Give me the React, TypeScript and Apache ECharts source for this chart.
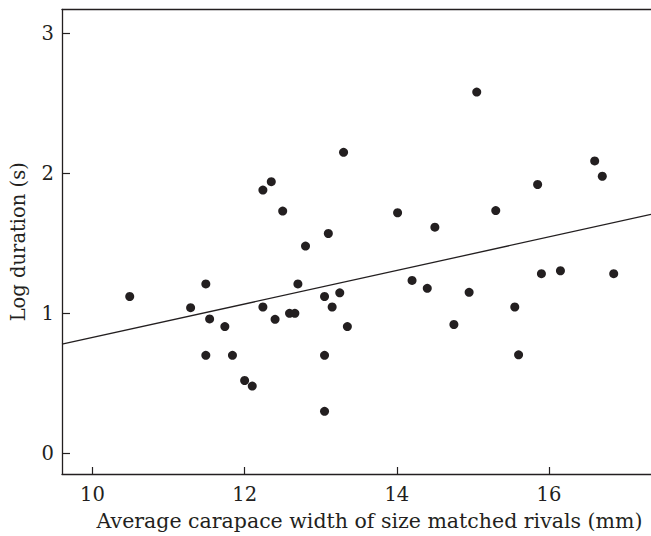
import React, { useEffect, useRef } from "react";
import * as echarts from "echarts";

const widthMm = [
  10.49, 11.29, 11.49, 11.54, 11.49, 11.74, 11.84, 12.0, 12.1, 12.24, 12.35, 12.24, 12.4, 12.5,
  12.59, 12.66, 12.7, 12.8, 13.05, 13.05, 13.05, 13.1, 13.15, 13.25, 13.3, 13.35, 14.01, 14.2,
  14.4, 14.5, 14.75, 14.95, 15.05, 15.3, 15.55, 15.6, 15.85, 15.9, 16.15, 16.6, 16.7, 16.85,
];
const logDuration = [
  1.12, 1.04, 1.21, 0.96, 0.7, 0.905, 0.7, 0.52, 0.48, 1.88, 1.94, 1.045, 0.957, 1.73,
  1.0, 1.0, 1.21, 1.48, 1.12, 0.7, 0.3, 1.57, 1.045, 1.146, 2.15, 0.905, 1.718, 1.235,
  1.178, 1.615, 0.92, 1.15, 2.58, 1.734, 1.045, 0.703, 1.92, 1.283, 1.304, 2.088, 1.979, 1.283,
];
const fitX = [9.6, 17.34];
const fitY = [0.779, 1.706];
const xTicks = [10, 12, 14, 16];
const yTicks = [0, 1, 2, 3];

export default function App() {
  const ref = useRef<HTMLDivElement>(null);
  useEffect(() => {
    if (!ref.current) return;
    const chart = echarts.init(ref.current, null, { renderer: "svg" });
    const font = "'DejaVu Serif', 'Liberation Serif', serif";
    const ink = "#231f20";
    chart.setOption({
      animation: false,
      backgroundColor: "#ffffff",
      grid: { left: 62, right: 0, top: 9.5, bottom: 61, containLabel: false },
      xAxis: [
        {
          type: "value",
          min: 9.6,
          max: 17.34,
          name: "Average carapace width of size matched rivals (mm)",
          nameLocation: "middle",
          nameGap: 36,
          nameTextStyle: { fontFamily: font, fontSize: 20.5, color: ink, padding: [0, 0, 0, 26] },
          axisLine: { show: true, onZero: false, lineStyle: { color: ink, width: 1.3 } },
          axisTick: { show: true, inside: true, length: 7, customValues: xTicks, lineStyle: { color: ink, width: 1.2 } },
          axisLabel: { customValues: xTicks, fontFamily: font, fontSize: 19.5, color: ink, margin: 10 },
          splitLine: { show: false },
        },
        {
          type: "value",
          position: "top",
          min: 9.6,
          max: 17.34,
          axisLine: { show: true, onZero: false, lineStyle: { color: ink, width: 1.3 } },
          axisTick: { show: false },
          axisLabel: { show: false },
          splitLine: { show: false },
        },
      ],
      yAxis: {
        type: "value",
        min: -0.148,
        max: 3.17,
        name: "Log duration (s)",
        nameLocation: "middle",
        nameGap: 34,
        nameTextStyle: { fontFamily: font, fontSize: 19.5, color: ink },
        axisLine: { show: true, onZero: false, lineStyle: { color: ink, width: 1.3 } },
        axisTick: { show: true, inside: true, length: 8, customValues: yTicks, lineStyle: { color: ink, width: 1.2 } },
        axisLabel: { customValues: yTicks, fontFamily: font, fontSize: 19.5, color: ink, margin: 8 },
        splitLine: { show: false },
      },
      series: [
        {
          type: "line",
          data: fitX.map((x, i) => [x, fitY[i]]),
          symbol: "none",
          lineStyle: { color: ink, width: 1.3 },
          silent: true,
          z: 1,
        },
        {
          type: "scatter",
          data: widthMm.map((x, i) => [x, logDuration[i]]),
          symbol: "circle",
          symbolSize: 9,
          itemStyle: { color: ink, opacity: 1 },
          z: 2,
        },
      ],
    });
    return () => chart.dispose();
  }, []);
  return (
    <div
      ref={ref}
      style={{ position: "fixed", left: 0, top: 0, width: 651, height: 536, background: "#fff" }}
    />
  );
}
